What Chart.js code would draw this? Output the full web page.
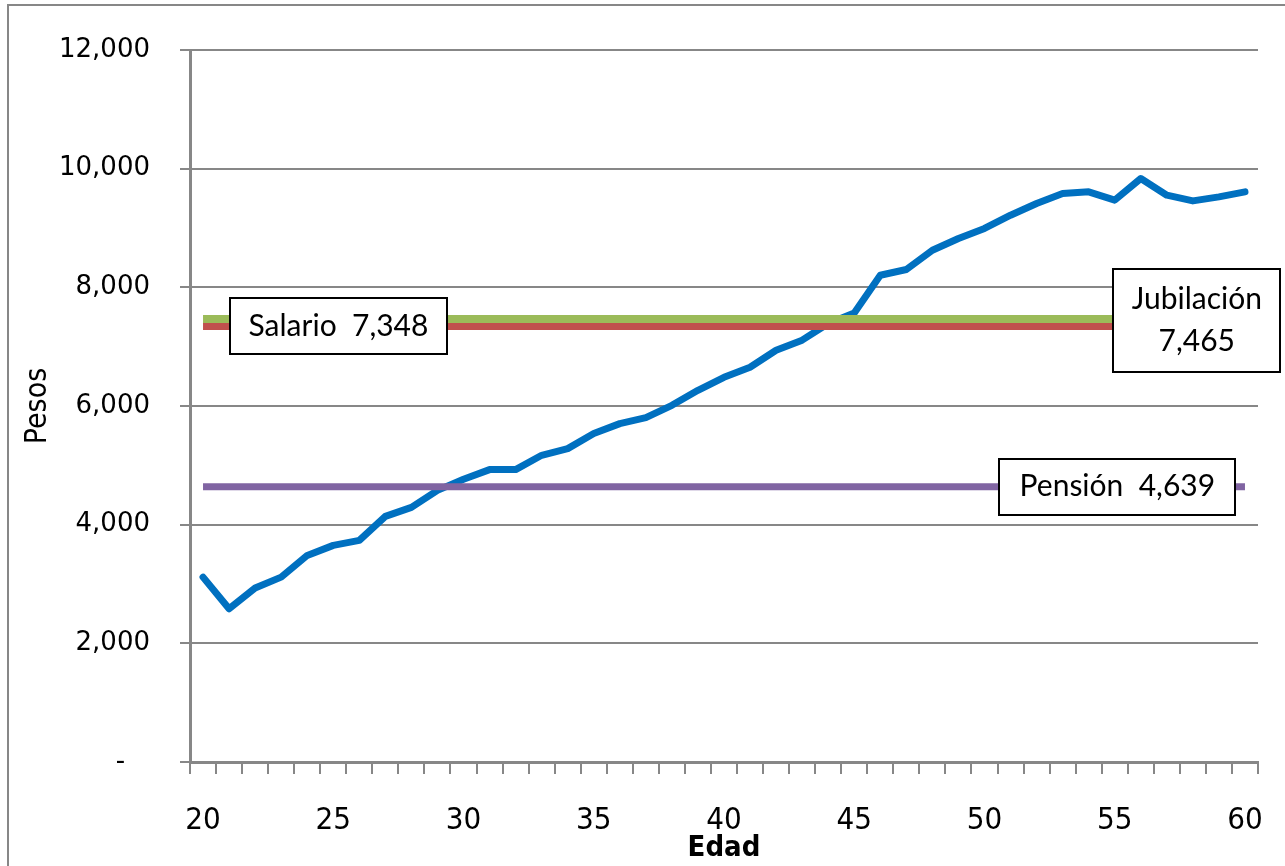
<!DOCTYPE html>
<html>
<head>
<meta charset="utf-8">
<script src="https://cdn.jsdelivr.net/npm/chart.js@4.4.0/dist/chart.umd.min.js"></script>
<style>
  body { margin: 0; background: #fff; }
</style>
</head>
<body>
<canvas id="myChart" width="1285" height="866"></canvas>
<script>
// edades (eje x)
let edades = ['20','21','22','23','24','25','26','27','28','29','30',
  '31','32','33','34','35','36','37','38','39','40',
  '41','42','43','44','45','46','47','48','49','50',
  '51','52','53','54','55','56','57','58','59','60'];

// salario por edad (pesos)
let salarios = [3116, 2583, 2931, 3116, 3482, 3651, 3735, 4140, 4292, 4578, 4764,
  4928, 4928, 5169, 5282, 5535, 5703, 5804, 6012, 6265, 6484,
  6653, 6939, 7110, 7390, 7569, 8204, 8300, 8626, 8823, 8992,
  9216, 9413, 9582, 9609, 9469, 9835, 9553, 9457, 9525, 9609];

let salarioPromedio = 7348;
let jubilacion = 7465;
let pension = 4639;

let yTicks = [0, 2000, 4000, 6000, 8000, 10000, 12000];

let gris = '#878787';
let condensada = "'Liberation Sans Narrow', 'DejaVu Sans Condensed', 'Open Sans', sans-serif";

function lineaPlana(valor) {
  return [{ x: edades[0], y: valor }, { x: edades[edades.length - 1], y: valor }];
}

// cajitas con texto sobre las lineas
let cajas = [
  { lineas: ['Salario  7,348'], valor: salarioPromedio, idx: 5.2, w: 217, h: 56 },
  { lineas: ['Jubilación', '7,465'], valor: jubilacion, idx: 38.15, w: 167, h: 103 },
  { lineas: ['Pensión  4,639'], valor: pension, idx: 35.1, w: 236, h: 56 }
];

let cajasPlugin = {
  id: 'cajas',
  beforeDraw(chart) {
    let c = chart.ctx;
    c.save();
    c.strokeStyle = gris;
    c.lineWidth = 2;
    c.strokeRect(8, 5, 1400, 1000);
    c.restore();
  },
  afterDatasetsDraw(chart) {
    let c = chart.ctx;
    let xs = chart.scales.x, ys = chart.scales.y;
    c.save();
    c.font = "30px Lato, 'Open Sans', sans-serif";
    c.textAlign = 'center';
    c.textBaseline = 'middle';
    cajas.forEach(caja => {
      let cx = xs.getPixelForValue(caja.idx);
      let cy = ys.getPixelForValue(caja.valor);
      if (caja.lineas.length > 1) cy = cy + 1;
      let x0 = Math.round(cx - caja.w / 2), y0 = Math.round(cy - caja.h / 2);
      c.fillStyle = '#fff';
      c.fillRect(x0, y0, caja.w, caja.h);
      c.strokeStyle = '#000';
      c.lineWidth = 2;
      c.strokeRect(x0, y0, caja.w, caja.h);
      c.fillStyle = '#000';
      let lh = 42;
      let start = cy - (caja.lineas.length - 1) * lh / 2;
      caja.lineas.forEach((t, i) => c.fillText(t, cx, start + i * lh));
    });
    c.restore();
  }
};

let ctx = document.getElementById('myChart').getContext('2d');

let myChart = new Chart(ctx, {
  type: 'line',
  data: {
    labels: edades,
    datasets: [
      { label: 'Pensión', data: lineaPlana(pension), borderColor: '#8064A2', borderWidth: 7, pointRadius: 0, order: 1 },
      { label: 'Jubilación', data: lineaPlana(jubilacion), borderColor: '#9BBB59', borderWidth: 8, pointRadius: 0, order: 1 },
      { label: 'Salario promedio', data: lineaPlana(salarioPromedio), borderColor: '#C0504D', borderWidth: 8, pointRadius: 0, order: 1 },
      { label: 'Salario', data: salarios, borderColor: '#0070C0', borderWidth: 7, pointRadius: 0,
        tension: 0, borderCapStyle: 'round', borderJoinStyle: 'round', order: 2 }
    ]
  },
  options: {
    responsive: false,
    animation: false,
    layout: { padding: { top: 50, right: 27, bottom: 0, left: 0 } },
    plugins: {
      legend: { display: false },
      tooltip: { enabled: false }
    },
    scales: {
      x: {
        type: 'category',
        offset: true,
        afterFit: s => { s.height = 104; s.paddingRight = 0; s.paddingLeft = 0; },
        grid: { drawOnChartArea: false, drawTicks: true, tickLength: 12, color: gris, lineWidth: 2, offset: true },
        border: { color: gris, width: 3 },
        ticks: {
          autoSkip: false,
          maxRotation: 0,
          padding: 28,
          color: '#000',
          font: { family: condensada, size: 31 },
          callback: function (v, i) {
            let e = edades[i];
            return Number(e) % 5 === 0 ? e : '';
          }
        },
        title: { display: true, text: 'Edad', color: '#000', font: { family: condensada, size: 29, weight: 'bold' }, padding: { top: 0, bottom: 0 } }
      },
      y: {
        min: yTicks[0],
        max: yTicks[yTicks.length - 1],
        afterFit: s => { s.width = 190; },
        afterBuildTicks: s => { s.ticks = yTicks.map(v => ({ value: v })); },
        grid: { color: gris, lineWidth: 2, tickLength: 10 },
        border: { color: gris, width: 3 },
        ticks: {
          padding: 30,
          color: '#000',
          font: { family: "'DejaVu Sans', Verdana, sans-serif", size: 26 },
          callback: v => v === 0 ? '-   ' : v.toLocaleString('en-US')
        },
        title: { display: true, text: 'Pesos', color: '#000', font: { family: condensada, size: 30 }, padding: { top: 20, bottom: 0 } }
      }
    }
  },
  plugins: [cajasPlugin]
});
</script>
</body>
</html>
